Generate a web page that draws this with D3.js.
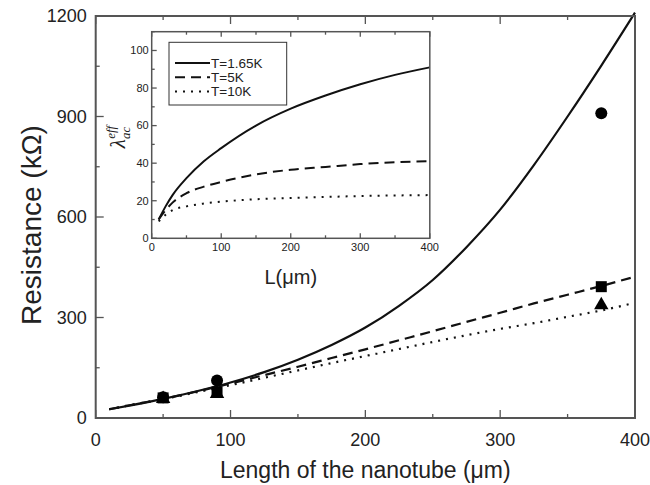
<!DOCTYPE html>
<html>
<head>
<meta charset="utf-8">
<script src="https://cdn.jsdelivr.net/npm/d3@7"></script>
<style>
body { margin: 0; background: #fff; }
svg text { font-family: "Liberation Sans", Arial, sans-serif; fill: #222; }
</style>
</head>
<body>
<svg id="chart" width="650" height="485"></svg>
<script>
// main panel: resistance vs length
var mainL = [10, 25, 50, 75, 100, 125, 150, 175, 200, 225, 250, 275, 300, 325, 350, 375, 400];
var rSolid = [26, 37, 57, 80, 106, 137, 174, 218, 270, 335, 412, 510, 622, 755, 900, 1052, 1210];
var rDash  = [26, 38, 57, 79, 103, 128, 153, 179, 205, 232, 259, 287, 314, 342, 368, 394, 422];
var rDot   = [26, 38, 56, 77, 98, 120, 142, 164, 185, 206, 227, 247, 266, 283, 302, 321, 344];

// measured points
var ptL = [50, 90, 375];
var ptCircle = [62, 112, 910];
var ptSquare = [60, 78, 392];
var ptTriangle = [57, 72, 337];

// inset: lambda_ac^eff vs L
var insL = [10, 20, 30, 50, 75, 100, 150, 200, 250, 300, 350, 400];
var lamSolid = [10, 17, 23, 32, 41, 48, 60, 69, 76, 82, 87, 91];
var lamDash  = [10, 15, 19, 24, 27.5, 30, 34, 36.5, 38, 39.5, 40.5, 41];
var lamDot   = [9, 12.5, 15, 17, 18.5, 19.5, 20.8, 21.5, 22, 22.5, 22.8, 23];

var legendLabels = ["T=1.65K", "T=5K", "T=10K"];
var dashes = [null, "10,6", "2,6"];

var svg = d3.select("#chart");
var axisColor = "#555";

var x = d3.scaleLinear().domain([0, 400]).range([95.7, 635]);
var y = d3.scaleLinear().domain([0, 1200]).range([418, 16]);

// frame with inward ticks on bottom, top and left
function drawFrame(g, xs, ys, opt) {
    var xr = xs.range(), yr = ys.range();
    opt.xMinor.forEach(function(v) {
        var len = opt.xMajor.indexOf(v) >= 0 ? opt.major : opt.minor;
        g.append("line").attr("x1", xs(v)).attr("x2", xs(v))
            .attr("y1", yr[0]).attr("y2", yr[0] - len)
            .attr("stroke", axisColor).attr("stroke-width", 1.3);
        g.append("line").attr("x1", xs(v)).attr("x2", xs(v))
            .attr("y1", yr[1]).attr("y2", yr[1] + len)
            .attr("stroke", axisColor).attr("stroke-width", 1.3);
    });
    opt.yMinor.forEach(function(v) {
        var len = opt.yMajor.indexOf(v) >= 0 ? opt.major : opt.minor;
        g.append("line").attr("y1", ys(v)).attr("y2", ys(v))
            .attr("x1", xr[0]).attr("x2", xr[0] + len)
            .attr("stroke", axisColor).attr("stroke-width", 1.3);
    });
    g.append("rect")
        .attr("x", xr[0]).attr("y", yr[1])
        .attr("width", xr[1] - xr[0]).attr("height", yr[0] - yr[1])
        .attr("fill", "none").attr("stroke", axisColor).attr("stroke-width", opt.frame);
    g.selectAll("text.xt").data(opt.xMajor).enter().append("text")
        .attr("x", function(d) { return xs(d); })
        .attr("y", yr[0] + opt.xLabelDy)
        .attr("text-anchor", "middle")
        .style("font-size", opt.font + "px")
        .text(function(d) { return d; });
    g.selectAll("text.yt").data(opt.yMajor).enter().append("text")
        .attr("x", xr[0] - opt.yLabelDx)
        .attr("y", function(d) { return ys(d); })
        .attr("dy", "0.35em")
        .attr("text-anchor", "end")
        .style("font-size", opt.font + "px")
        .text(function(d) { return d; });
}

var main = svg.append("g");

var line = d3.line().curve(d3.curveMonotoneX)
    .x(function(d) { return x(d[0]); })
    .y(function(d) { return y(d[1]); });

[rSolid, rDash, rDot].forEach(function(s, i) {
    main.append("path")
        .datum(mainL.map(function(l, j) { return [l, s[j]]; }))
        .attr("d", line)
        .attr("fill", "none")
        .attr("stroke", "#111")
        .attr("stroke-width", 2.2)
        .attr("stroke-dasharray", dashes[i]);
});

// markers
main.selectAll("path.tri").data(ptL).enter().append("path")
    .attr("d", d3.symbol().type(d3.symbolTriangle).size(90))
    .attr("transform", function(d, i) { return "translate(" + x(d) + "," + y(ptTriangle[i]) + ")"; })
    .attr("fill", "#000");
main.selectAll("rect.sq").data(ptL).enter().append("rect")
    .attr("x", function(d) { return x(d) - 5.5; })
    .attr("y", function(d, i) { return y(ptSquare[i]) - 5.5; })
    .attr("width", 11).attr("height", 11)
    .attr("fill", "#000");
main.selectAll("circle.ci").data(ptL).enter().append("circle")
    .attr("cx", function(d) { return x(d); })
    .attr("cy", function(d, i) { return y(ptCircle[i]); })
    .attr("r", 6)
    .attr("fill", "#000");

drawFrame(main, x, y, {
    xMajor: [0, 100, 200, 300, 400], xMinor: d3.range(0, 401, 50),
    yMajor: [0, 300, 600, 900, 1200], yMinor: d3.range(0, 1201, 150),
    major: 8, minor: 4, frame: 2, font: 18, xLabelDy: 28, yLabelDx: 9
});

main.append("text")
    .attr("x", x(200)).attr("y", 478)
    .attr("text-anchor", "middle")
    .style("font-size", "23px")
    .text("Length of the nanotube (\u03bcm)");
main.append("text")
    .attr("transform", "translate(41,225) rotate(-90)")
    .attr("text-anchor", "middle")
    .style("font-size", "28px")
    .text("Resistance (k\u03a9)");

// inset
var ix = d3.scaleLinear().domain([0, 400]).range([151.7, 429.8]);
var iy = d3.scaleLinear().domain([0, 110]).range([238.3, 31.7]);
var inset = svg.append("g");

inset.append("rect")
    .attr("x", 151.7).attr("y", 31.7)
    .attr("width", 429.8 - 151.7).attr("height", 238.3 - 31.7)
    .attr("fill", "#fff");

var iline = d3.line().curve(d3.curveMonotoneX)
    .x(function(d) { return ix(d[0]); })
    .y(function(d) { return iy(d[1]); });

[lamSolid, lamDash, lamDot].forEach(function(s, i) {
    inset.append("path")
        .datum(insL.map(function(l, j) { return [l, s[j]]; }))
        .attr("d", iline)
        .attr("fill", "none")
        .attr("stroke", "#111")
        .attr("stroke-width", 2)
        .attr("stroke-dasharray", dashes[i]);
});

drawFrame(inset, ix, iy, {
    xMajor: [0, 100, 200, 300, 400], xMinor: d3.range(0, 401, 50),
    yMajor: [0, 20, 40, 60, 80, 100], yMinor: d3.range(0, 111, 10),
    major: 5, minor: 3, frame: 1.5, font: 11, xLabelDy: 13, yLabelDx: 3
});

inset.append("text")
    .attr("x", ix(200)).attr("y", 284)
    .attr("text-anchor", "middle")
    .style("font-size", "20px")
    .text("L(\u03bcm)");

var lam = inset.append("text")
    .attr("transform", "translate(125,137) rotate(-90)")
    .attr("text-anchor", "middle")
    .style("font-family", "'Liberation Serif', serif")
    .style("font-style", "italic")
    .style("font-size", "21px");
lam.append("tspan").text("\u03bb");
lam.append("tspan").attr("dy", 5).style("font-size", "13px").text("ac");
lam.append("tspan").attr("dx", -12).attr("dy", -15).style("font-size", "13px").text("eff");

// legend
var leg = inset.append("g");
leg.append("rect")
    .attr("x", 169).attr("y", 42.3)
    .attr("width", 117.7).attr("height", 62.7)
    .attr("fill", "#fff").attr("stroke", "#333").attr("stroke-width", 1);
legendLabels.forEach(function(lbl, i) {
    var ly = 63 + i * 14.3;
    leg.append("line")
        .attr("x1", 175).attr("x2", 210)
        .attr("y1", ly).attr("y2", ly)
        .attr("stroke", "#111").attr("stroke-width", 2)
        .attr("stroke-dasharray", dashes[i]);
    leg.append("text")
        .attr("x", 211).attr("y", ly).attr("dy", "0.35em")
        .style("font-size", "13.5px")
        .text(lbl);
});
</script>
</body>
</html>
